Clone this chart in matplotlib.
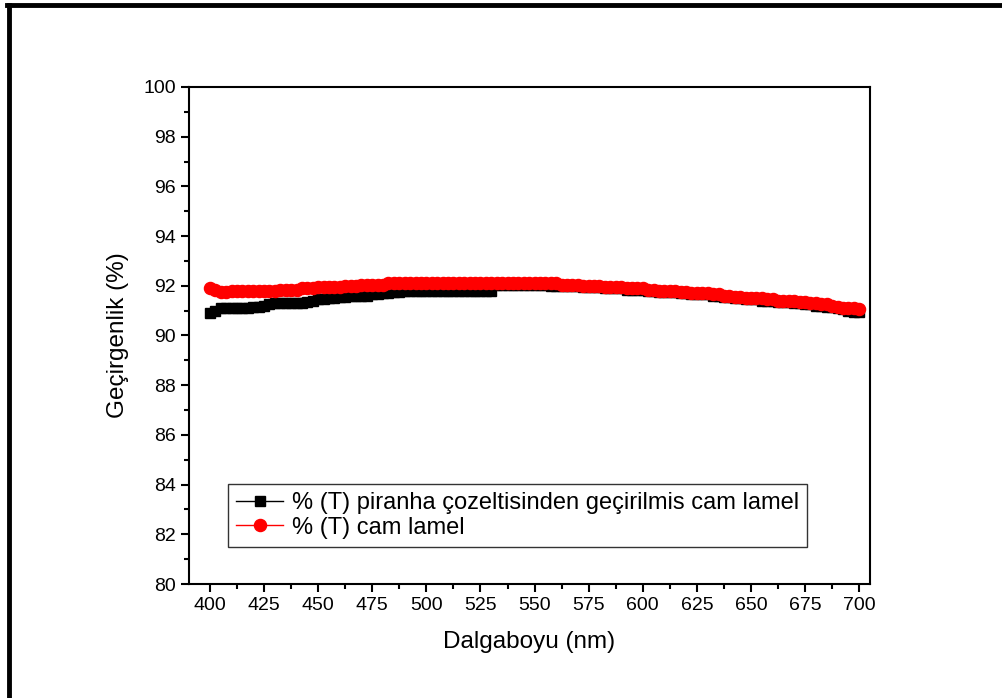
import matplotlib
matplotlib.use("Agg")
from matplotlib import pyplot as plt
from matplotlib.lines import Line2D
from matplotlib.ticker import MultipleLocator
import numpy as np

plt.rcParams['font.family'] = ['Liberation Sans', 'DejaVu Sans']

# wavelength (nm), 2.5 nm step
wavelength = np.arange(400, 700.1, 2.5)

# % (T) cam lamel  (rows of 25 nm)
t_cam = [91.9, 91.85, 91.75, 91.75, 91.8, 91.8, 91.8, 91.8, 91.8, 91.8,
         91.8, 91.8, 91.8, 91.85, 91.85, 91.85, 91.85, 91.9, 91.9, 91.9,
         91.95, 91.95, 91.95, 91.95, 91.95, 92.0, 92.0, 92.0, 92.05, 92.05,
         92.05, 92.05, 92.05, 92.1, 92.1, 92.1, 92.1, 92.1, 92.1, 92.1,
         92.1, 92.1, 92.1, 92.1, 92.1, 92.1, 92.1, 92.1, 92.1, 92.1,
         92.1, 92.1, 92.1, 92.1, 92.1, 92.1, 92.1, 92.1, 92.1, 92.1,
         92.1, 92.1, 92.1, 92.1, 92.1, 92.05, 92.05, 92.05, 92.05, 92.0,
         92.0, 92.0, 92.0, 91.95, 91.95, 91.95, 91.95, 91.9, 91.9, 91.9,
         91.9, 91.85, 91.85, 91.8, 91.8, 91.8, 91.8, 91.75, 91.75, 91.7,
         91.7, 91.7, 91.7, 91.65, 91.65, 91.6, 91.6, 91.55, 91.55, 91.5,
         91.5, 91.5, 91.5, 91.45, 91.45, 91.4, 91.4, 91.4, 91.4, 91.35,
         91.35, 91.3, 91.3, 91.25, 91.25, 91.2, 91.15, 91.1, 91.1, 91.1,
         91.05]

# % (T) piranha treated cam lamel
t_piranha = [90.9, 91.0, 91.1, 91.1, 91.1, 91.1, 91.1, 91.1, 91.15, 91.15,
             91.2, 91.25, 91.3, 91.3, 91.3, 91.3, 91.3, 91.3, 91.35, 91.4,
             91.45, 91.45, 91.5, 91.5, 91.55, 91.55, 91.6, 91.6, 91.6, 91.6,
             91.65, 91.65, 91.7, 91.7, 91.75, 91.75, 91.8, 91.8, 91.8, 91.8,
             91.8, 91.8, 91.8, 91.8, 91.8, 91.8, 91.8, 91.8, 91.8, 91.8,
             91.8, 91.8, 91.8, 92.05, 92.05, 92.05, 92.05, 92.05, 92.05, 92.05,
             92.05, 92.05, 92.05, 92.0, 92.0, 92.0, 92.0, 92.0, 92.0, 91.95,
             91.95, 91.95, 91.95, 91.9, 91.9, 91.9, 91.9, 91.85, 91.85, 91.85,
             91.85, 91.8, 91.8, 91.75, 91.75, 91.75, 91.75, 91.7, 91.7, 91.65,
             91.65, 91.65, 91.65, 91.6, 91.6, 91.55, 91.55, 91.5, 91.5, 91.45,
             91.45, 91.45, 91.4, 91.4, 91.4, 91.35, 91.35, 91.35, 91.3, 91.3,
             91.25, 91.25, 91.2, 91.2, 91.15, 91.15, 91.1, 91.05, 91.0, 90.95,
             90.95]

fig = plt.figure(figsize=(10.03, 6.98), dpi=100)
ax = fig.add_axes([0.1884, 0.1633, 0.679, 0.7121])

ax.plot(wavelength, t_piranha, color='black', lw=1, marker='s', markersize=7,
        label='% (T) piranha çozeltisinden geçirilmis cam lamel')
ax.plot(wavelength, t_cam, color='red', lw=1, marker='o', markersize=8.7,
        label='% (T) cam lamel')

ax.set_xlim(390.3, 705)
ax.set_ylim(80, 100)
ax.xaxis.set_major_locator(MultipleLocator(25))
ax.xaxis.set_minor_locator(MultipleLocator(12.5))
ax.yaxis.set_major_locator(MultipleLocator(2))
ax.yaxis.set_minor_locator(MultipleLocator(1))

ax.tick_params(which='both', direction='out', width=1.5, labelsize=14,
               top=False, right=False)
ax.tick_params(which='major', length=6)
ax.tick_params(which='minor', length=3.5)
for sp in ax.spines.values():
    sp.set_linewidth(1.5)

ax.set_xlabel('Dalgaboyu (nm)', fontsize=17.5, labelpad=12)
ax.set_ylabel('Geçirgenlik (%)', fontsize=17.5, labelpad=10)

leg = ax.legend(loc='lower left', bbox_to_anchor=(0.057, 0.0745),
                borderaxespad=0, fontsize=17,
                frameon=True, fancybox=False, edgecolor='black',
                handlelength=2.0, borderpad=0.35, labelspacing=0.1,
                handletextpad=0.35)
leg.get_frame().set_linewidth(1.0)

# outer frame (top and left edges)
fig.add_artist(Line2D([0.007, 1.0], [0.9935, 0.9935], color='black', lw=3.5,
                      transform=fig.transFigure))
fig.add_artist(Line2D([0.0092, 0.0092], [0.0, 0.9935], color='black', lw=3.5,
                      transform=fig.transFigure))

fig.savefig('out.png', dpi=100)
